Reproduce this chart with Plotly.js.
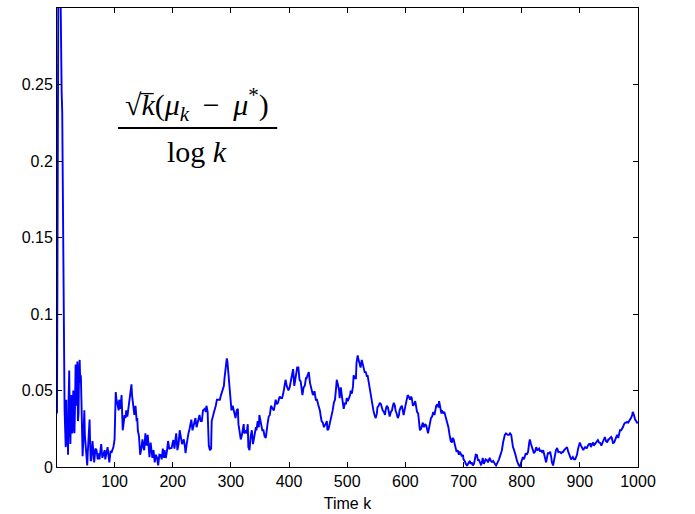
<!DOCTYPE html>
<html>
<head>
<meta charset="utf-8">
<script src="https://cdn.plot.ly/plotly-3.0.1.min.js"></script>
<style>html,body{margin:0;padding:0;background:#fff;}#chart{width:695px;height:514px;}</style>
</head>
<body>
<div id="chart"></div>
<script>
// Time index k (x) and normalised deviation sqrt(k)(mu_k - mu*)/log k (y)
var timeK = [1,2,3,4,5,6,7,8,9,10,11,12,13,14,15,16,17,18,19,20,21,22,23,24,25,26,27,28,29,30,31,32,33,34,35,36,37,38,39,40,41,42,43,44,45,46,47,48,49,50,51,52,53,54,55,56,57,58,59,60,62,63,65,67,69,71,72,74,76,77,79,81,83,84,86,88,90,91,93,95,97,98,100,101,102,103,105,107,108,110,112,113,114,116,117,119,120,122,124,126,127,129,130,132,134,136,138,139,140,142,144,146,148,150,151,153,155,157,158,160,162,164,165,167,169,171,173,175,177,179,181,183,185,186,188,190,192,194,196,198,201,203,205,206,208,210,212,214,216,218,219,221,222,224,225,227,229,232,234,236,239,241,243,246,248,250,252,255,257,258,260,262,264,266,267,269,271,274,276,278,281,283,284,286,288,289,291,293,294,296,298,300,301,303,305,306,308,310,312,313,315,317,319,322,323,325,327,329,330,332,334,336,338,341,343,344,346,348,349,351,353,354,356,358,360,362,363,365,367,369,370,372,374,376,377,379,381,383,384,386,388,390,392,394,396,397,399,401,403,404,406,407,409,411,413,414,416,418,420,422,423,425,427,429,430,432,434,436,437,439,441,443,444,446,448,450,451,453,455,456,458,460,461,463,465,466,468,470,472,474,475,477,479,481,482,484,486,487,489,491,493,494,496,498,499,501,503,505,506,508,510,511,513,515,516,518,519,521,523,525,527,528,530,532,534,535,537,539,541,542,544,545,547,549,551,552,554,556,558,559,561,563,565,566,568,570,572,573,575,577,578,580,582,583,585,587,589,590,592,594,596,597,599,601,603,604,606,608,610,611,613,615,617,618,620,622,624,625,627,629,630,632,634,636,637,639,641,643,644,646,648,650,651,653,655,657,658,660,662,663,665,667,669,670,672,674,676,678,680,681,683,685,686,688,690,692,693,695,697,699,700,702,704,706,707,709,711,712,714,716,718,719,721,723,725,726,728,730,731,733,735,737,738,740,742,744,745,747,749,751,752,754,756,758,759,761,763,765,766,768,770,771,773,775,776,778,780,782,783,785,787,789,790,792,794,795,797,799,800,802,804,806,807,809,811,813,814,816,818,819,821,823,825,827,828,830,832,833,835,837,839,840,842,844,845,847,849,851,852,854,856,857,859,861,863,864,866,868,870,871,873,875,877,878,880,882,883,885,887,888,890,892,894,895,897,899,900,902,904,906,907,909,911,912,914,916,918,919,921,923,924,926,928,930,931,933,935,937,938,940,942,943,945,947,949,950,952,954,955,957,959,961,962,964,966,968,969,971,973,974,976,978,980,981,983,985,986,988,990,991,993,995,997,998,1000];
var ratio = [0.035,0.20,0.34,0.40,0.38,0.34,0.30,0.262,0.245,0.232,0.16,0.10,0.055,0.038,0.025,0.013,0.044,0.014,0.030,0.008,0.045,0.063,0.030,0.015,0.035,0.047,0.022,0.025,0.050,0.028,0.022,0.040,0.067,0.045,0.040,0.069,0.030,0.035,0.063,0.070,0.055,0.060,0.044,0.020,0.007,0.015,0.030,0.037,0.020,0.014,0.008,0.003,0.001,0.010,0.016,0.025,0.031,0.015,0.004,0.0046,0.017,0.010,0.003,0.012,0.011,0.005,0.009,0.005,0.012,0.015,0.006,0.008,0.011,0.005,0.010,0.013,0.006,0.003,0.010,0.0098,0.012,0.013,0.018,0.035,0.049,0.045,0.040,0.037,0.044,0.038,0.047,0.035,0.024,0.030,0.034,0.032,0.037,0.033,0.040,0.045,0.050,0.054,0.047,0.040,0.034,0.040,0.030,0.032,0.024,0.020,0.008,0.012,0.018,0.012,0.011,0.022,0.014,0.021,0.015,0.0065,0.016,0.010,0.006,0.011,0.003,0.008,0.006,0.001,0.008,0.0078,0.005,0.012,0.0059,0.011,0.0059,0.010,0.017,0.012,0.0124,0.0124,0.0176,0.012,0.019,0.022,0.011,0.015,0.024,0.018,0.015,0.017,0.018,0.013,0.009,0.015,0.018,0.022,0.025,0.031,0.024,0.028,0.032,0.026,0.030,0.034,0.030,0.030,0.037,0.038,0.036,0.040,0.036,0.014,0.011,0.012,0.030,0.034,0.036,0.040,0.044,0.044,0.044,0.047,0.048,0.050,0.053,0.058,0.067,0.071,0.069,0.060,0.053,0.044,0.037,0.040,0.036,0.034,0.032,0.037,0.038,0.028,0.024,0.018,0.021,0.028,0.022,0.024,0.022,0.028,0.013,0.011,0.020,0.024,0.015,0.023,0.026,0.024,0.030,0.026,0.034,0.030,0.027,0.024,0.024,0.020,0.019,0.027,0.028,0.033,0.034,0.040,0.039,0.038,0.037,0.043,0.044,0.041,0.042,0.045,0.046,0.045,0.045,0.048,0.054,0.057,0.053,0.052,0.050,0.052,0.058,0.058,0.062,0.064,0.053,0.057,0.063,0.065,0.065,0.057,0.056,0.048,0.047,0.052,0.053,0.058,0.058,0.060,0.062,0.055,0.053,0.050,0.047,0.049,0.049,0.044,0.044,0.041,0.040,0.037,0.032,0.030,0.029,0.026,0.027,0.028,0.030,0.024,0.025,0.028,0.032,0.035,0.037,0.042,0.044,0.052,0.057,0.054,0.050,0.045,0.052,0.046,0.042,0.038,0.042,0.041,0.045,0.043,0.045,0.047,0.050,0.048,0.053,0.060,0.058,0.058,0.068,0.073,0.071,0.068,0.065,0.070,0.066,0.064,0.062,0.062,0.059,0.060,0.055,0.052,0.047,0.044,0.040,0.037,0.034,0.032,0.035,0.039,0.040,0.042,0.041,0.039,0.037,0.036,0.034,0.037,0.040,0.039,0.035,0.033,0.036,0.037,0.039,0.042,0.040,0.037,0.035,0.032,0.034,0.037,0.039,0.040,0.036,0.034,0.038,0.042,0.046,0.047,0.046,0.044,0.046,0.045,0.040,0.041,0.043,0.041,0.036,0.035,0.029,0.024,0.025,0.028,0.029,0.026,0.028,0.027,0.025,0.022,0.026,0.030,0.032,0.033,0.036,0.034,0.037,0.040,0.041,0.039,0.043,0.039,0.035,0.037,0.035,0.036,0.033,0.030,0.027,0.026,0.021,0.017,0.016,0.019,0.018,0.015,0.012,0.010,0.011,0.008,0.010,0.009,0.007,0.008,0.005,0.004,0.002,0.001,0.0013,0.003,0.004,0.002,0.003,0.001,0.002,0.004,0.008,0.0078,0.004,0.005,0.003,0.0015,0.002,0.006,0.002,0.004,0.005,0.0046,0.003,0.005,0.006,0.004,0.0033,0.004,0.003,0.002,0.001,0.002,0.0033,0.005,0.007,0.0098,0.011,0.016,0.020,0.021,0.022,0.021,0.021,0.021,0.022,0.021,0.018,0.013,0.011,0.009,0.007,0.004,0.002,0.001,0.0005,0.003,0.005,0.0065,0.005,0.007,0.009,0.008,0.010,0.016,0.018,0.015,0.013,0.012,0.009,0.010,0.013,0.011,0.0111,0.012,0.010,0.011,0.0098,0.011,0.008,0.0065,0.003,0.007,0.009,0.009,0.010,0.006,0.003,0.001,0.006,0.008,0.011,0.0124,0.0098,0.010,0.0098,0.009,0.0098,0.0098,0.011,0.012,0.0131,0.013,0.010,0.008,0.0078,0.005,0.006,0.0065,0.005,0.005,0.007,0.0078,0.012,0.015,0.016,0.014,0.012,0.011,0.012,0.013,0.0124,0.0124,0.014,0.015,0.015,0.013,0.015,0.016,0.014,0.015,0.016,0.017,0.0176,0.016,0.0157,0.014,0.015,0.0176,0.019,0.0196,0.017,0.016,0.018,0.018,0.019,0.0196,0.019,0.0157,0.016,0.018,0.020,0.021,0.019,0.022,0.024,0.024,0.025,0.026,0.028,0.029,0.029,0.0294,0.029,0.030,0.0307,0.032,0.034,0.036,0.034,0.031,0.030,0.029,0.029];
var xTickVals = [100,200,300,400,500,600,700,800,900,1000];
var yTickVals = [0,0.05,0.1,0.15,0.2,0.25];
var yTickText = ['0','0.05','0.1','0.15','0.2','0.25'];
var xAxisTitle = 'Time k';
var numerText = '\u221A<i>k</i>(<i>\u03BC</i><sub><i>k</i></sub>\u00A0\u2009\u2212\u00A0\u2009<i>\u03BC</i><sup>*</sup>)';
var denomText = 'log <i>k</i>';

var tickFont = {family: 'Liberation Sans, Arial, Helvetica, sans-serif', size: 16, color: '#000'};
var mathFont = {family: 'Liberation Serif, DejaVu Serif, serif', size: 30, color: '#000'};
var trace = {
  x: timeK, y: ratio, type: 'scatter', mode: 'lines',
  line: {color: '#0000ff', width: 1.9}, cliponaxis: true, hoverinfo: 'skip'
};
var layout = {
  width: 695, height: 514,
  margin: {l: 57, r: 57, t: 8, b: 47},
  paper_bgcolor: '#fff', plot_bgcolor: '#fff',
  showlegend: false,
  xaxis: {
    range: [1, 1000], tickvals: xTickVals, ticktext: xTickVals.map(String),
    ticks: 'inside', ticklen: 5, tickwidth: 1, tickcolor: '#000',
    showline: true, linecolor: '#000', linewidth: 1, mirror: 'ticks',
    showgrid: false, zeroline: false, tickfont: tickFont,
    title: {text: xAxisTitle, font: tickFont, standoff: 8}
  },
  yaxis: {
    range: [0, 0.3], tickvals: yTickVals, ticktext: yTickText,
    ticks: 'inside', ticklen: 5, tickwidth: 1, tickcolor: '#000',
    showline: true, linecolor: '#000', linewidth: 1, mirror: 'ticks',
    showgrid: false, zeroline: false, tickfont: tickFont
  },
  annotations: [
    {xref: 'paper', yref: 'paper', x: 0.241, y: 0.789, text: numerText, showarrow: false,
     xanchor: 'center', yanchor: 'middle', font: mathFont},
    {xref: 'paper', yref: 'paper', x: 0.241, y: 0.688, text: denomText, showarrow: false,
     xanchor: 'center', yanchor: 'middle', font: mathFont}
  ],
  shapes: [
    {type: 'line', xref: 'paper', yref: 'paper', x0: 0.105, x1: 0.379, y0: 0.7386, y1: 0.7386,
     line: {color: '#000', width: 2}},
    {type: 'line', xref: 'paper', yref: 'paper', x0: 0.1435, x1: 0.1665, y0: 0.8135, y1: 0.8135,
     line: {color: '#000', width: 1.3}}
  ]
};
Plotly.newPlot('chart', [trace], layout, {staticPlot: true, displayModeBar: false});
</script>
</body>
</html>
